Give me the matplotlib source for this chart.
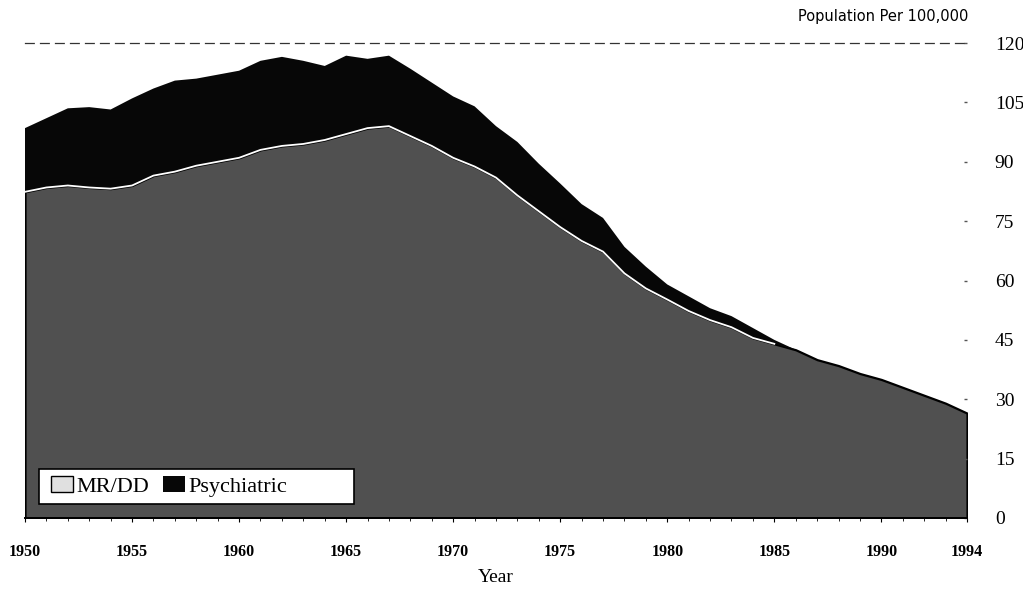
import matplotlib
matplotlib.use("Agg")
import matplotlib.pyplot as plt
from matplotlib.patches import Rectangle

years = list(range(1950, 1995))
mrdd = [82.4, 83.5, 84.0, 83.5, 83.2, 84.0, 86.5, 87.5, 89.0, 90.0,
        91.0, 93.0, 94.0, 94.5, 95.5, 97.0, 98.5, 99.0, 96.5, 94.0,
        91.0, 88.8, 86.0, 81.5, 77.5, 73.5, 70.0, 67.3, 61.8, 58.0,
        55.2, 52.3, 50.0, 48.2, 45.5, 44.0, 42.5, 40.0, 38.5, 36.5,
        35.0, 33.0, 31.0, 29.0, 26.5]
total = [98.5, 101.0, 103.5, 103.8, 103.2, 106.0, 108.5, 110.5, 111.0, 112.0,
         113.0, 115.5, 116.5, 115.5, 114.2, 116.8, 116.0, 116.8, 113.5, 110.0,
         106.5, 104.0, 99.0, 95.0, 89.5, 84.5, 79.3, 75.8, 68.5, 63.5,
         59.0, 56.0, 53.0, 51.0, 48.0, 45.0, 42.5, 40.0, 38.5, 36.5,
         35.0, 33.0, 31.0, 29.0, 26.5]
psych = [t - m for t, m in zip(total, mrdd)]
xticks = [1950, 1955, 1960, 1965, 1970, 1975, 1980, 1985, 1990, 1994]
yticks = [0, 15, 30, 45, 60, 75, 90, 105, 120]
labels = ["MR/DD", "Psychiatric"]

serif = ["Liberation Serif", "DejaVu Serif"]
plt.rcParams['font.family'] = serif

fig = plt.figure(figsize=(10.23, 6.02), dpi=100)
W, H = 1023, 602
ax = fig.add_axes([25 / W, 1 - 518 / H, 942 / W, 475 / H])

polys = ax.stackplot(years, mrdd, psych, colors=["#505050", "#070707"],
                     labels=labels)
polys[0].set_edgecolor("black")
polys[0].set_linewidth(1.6)
polys[1].set_linewidth(0)
n_sep = years.index(1985) + 1
ax.plot(years[:n_sep], mrdd[:n_sep], color="white", linewidth=1.3, zorder=3)

ax.set_xlim(1950, 1994)
ax.set_ylim(0, 120)

ax.yaxis.tick_right()
ax.set_yticks(yticks)
ax.set_yticklabels([str(v) for v in yticks], fontsize=14)
ax.tick_params(axis="y", length=2, width=1, pad=20, right=True, left=False,
               direction="in", color="#555555")

ax.set_xticks(xticks)
ax.set_xticklabels([str(v) for v in xticks], fontsize=11.5, fontweight="bold")
ax.set_xticks(years, minor=True)
ax.tick_params(axis="x", which="major", length=3, direction="out", pad=16)
ax.tick_params(axis="x", which="minor", length=2, direction="out")

for s in ["right", "left"]:
    ax.spines[s].set_visible(False)
ax.spines["top"].set_linestyle((0, (7, 5)))
ax.spines["top"].set_linewidth(0.9)
ax.spines["top"].set_color("#333333")
ax.spines["bottom"].set_linewidth(1.4)

ax.set_xlabel("Year", fontsize=14, labelpad=6)
fig.text(968 / W, 1 - 16 / H, "Population Per 100,000", ha="right", va="center",
         fontsize=10.5, family=["DejaVu Sans"])

# legend box (wider than its contents, as in the original)
box = Rectangle((39 / W, 1 - 504 / H), (354 - 39) / W, 35 / H,
                transform=fig.transFigure, facecolor="white",
                edgecolor="black", linewidth=1.2, zorder=4)
fig.add_artist(box)
leg = fig.legend(handles=polys, labels=labels, loc="center left",
                 bbox_to_anchor=(40 / W, 1 - 486.5 / H), ncol=2, fontsize=16,
                 frameon=False, handlelength=1.0, handleheight=0.7,
                 handletextpad=0.15, columnspacing=0.6, borderpad=0.0)
leg.set_zorder(5)
leg.legend_handles[0].set_facecolor("#e0e0e0")
leg.legend_handles[0].set_edgecolor("black")
leg.legend_handles[0].set_linewidth(1.0)
leg.legend_handles[1].set_facecolor("#070707")

fig.savefig("out.png", dpi=100)
